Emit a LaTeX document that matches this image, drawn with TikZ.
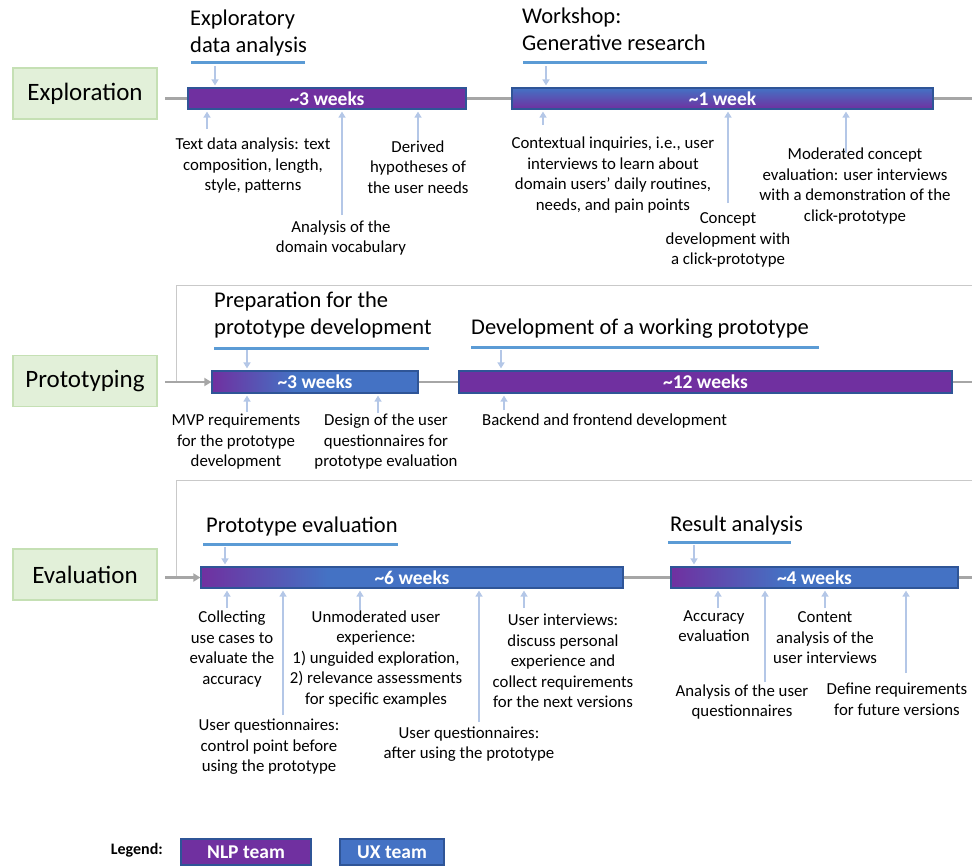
\documentclass[tikz,border=0pt]{standalone}
\usepackage{fontspec}
\setmainfont{Carlito}
\usetikzlibrary{arrows.meta}

\definecolor{nlpcol}{HTML}{7030A0}
\definecolor{uxcol}{HTML}{4472C4}
\definecolor{barcol}{HTML}{2F5597}
\definecolor{cuecol}{HTML}{B4C7E7}
\definecolor{headcol}{HTML}{5B9BD5}
\definecolor{trackcol}{HTML}{A6A6A6}
\definecolor{linkcol}{HTML}{C9C9C9}
\definecolor{phasefill}{HTML}{E2F0D9}
\definecolor{phaseline}{HTML}{C5E0B4}

% purple to blue, left part of the bar only
\pgfdeclarehorizontalshading{mixshort}{100bp}{color(0bp)=(nlpcol); color(25bp)=(nlpcol); color(45bp)=(uxcol); color(100bp)=(uxcol)}
\pgfdeclarehorizontalshading{mixlong}{100bp}{color(0bp)=(nlpcol); color(25bp)=(nlpcol); color(40bp)=(uxcol); color(100bp)=(uxcol)}

\begin{document}
\begin{tikzpicture}[x=1pt, y=-1pt,
    phase/.style={draw=phaseline, line width=1.5pt, fill=phasefill, minimum width=144pt, minimum height=51pt, font=\fontsize{25}{30}\selectfont},
    timebar/.style={draw=barcol, line width=1.2pt, inner sep=0pt, minimum height=21pt, text=white, font=\fontsize{19.5}{22}\selectfont\bfseries},
    head/.style={anchor=west, align=left, inner sep=0pt, font=\fontsize{22.5}{27}\selectfont},
    note/.style={align=center, inner sep=0pt, font=\fontsize{16.8}{20.5}\selectfont},
    cue/.style={draw=cuecol, line width=1.5pt, -{Triangle[width=7pt,length=6pt]}, shorten >=2pt},
    track/.style={draw=trackcol, line width=2.5pt},
    link/.style={draw=linkcol, line width=1pt},
    underline/.style={draw=headcol, line width=3pt}]
  \useasboundingbox (0,0) rectangle (972,865);

  % Exploration
  \node[phase] (explore) at (85,93.5) {Exploration};
  \node[timebar, fill=nlpcol, minimum width=278pt] (eda) at (327,98.5) {\textasciitilde3 weeks};
  \node[timebar, top color=uxcol, bottom color=nlpcol, minimum width=421pt] (gen) at (722.5,98.5) {\textasciitilde1 week};
  \coordinate (e0) at (165,98.5);
  \coordinate (e9) at (972,98.5);
  \draw[track] (e0) -- (eda.west) (eda.east) -- (gen.west) (gen.east) -- (e9);

  \node[head] (edahead) at (190,33) {Exploratory\\data analysis};
  \node[head] (genhead) at (522,29) {Workshop:\\Generative research};
  \draw[underline] (191,62) -- (305,62);
  \draw[underline] (523,62) -- (707,62);
  \coordinate (edain) at (215,66);
  \coordinate (genin) at (546,66);
  \draw[cue] (edain) -- (edain |- eda.north);
  \draw[cue] (genin) -- (genin |- gen.north);

  \node[note] (textdata) at (253,166) {Text data analysis: text\\composition, length,\\style, patterns};
  \node[note] (vocab) at (341,238) {Analysis of the\\domain vocabulary};
  \node[note] (needs) at (418,167) {Derived\\hypotheses of\\the user needs};
  \node[note] (inquiry) at (613,175) {Contextual inquiries, i.e., user\\interviews to learn about\\domain users’ daily routines,\\needs, and pain points};
  \node[note] (concept) at (728,240) {Concept\\development with\\a click-prototype};
  \node[note] (moderated) at (855,186) {Moderated concept\\evaluation: user interviews\\with a demonstration of the\\click-prototype};
  \coordinate (textdataup) at (207,129);
  \coordinate (vocabup) at (342,215);
  \coordinate (needsup) at (418,140);
  \coordinate (inquiryup) at (543,125);
  \coordinate (conceptup) at (728,203);
  \coordinate (moderatedup) at (846,153);
  \draw[cue] (textdataup) -- (textdataup |- eda.south);
  \draw[cue] (vocabup) -- (vocabup |- eda.south);
  \draw[cue] (needsup) -- (needsup |- eda.south);
  \draw[cue] (inquiryup) -- (inquiryup |- gen.south);
  \draw[cue] (conceptup) -- (conceptup |- gen.south);
  \draw[cue] (moderatedup) -- (moderatedup |- gen.south);

  % Prototyping
  \node[phase] (proto) at (85,381) {Prototyping};
  \node[timebar, shading=mixshort, minimum width=206pt, minimum height=22pt] (prep) at (315,382) {\textasciitilde3 weeks};
  \node[timebar, fill=nlpcol, minimum width=493pt, minimum height=22pt] (work) at (705.5,382) {\textasciitilde12 weeks};
  \coordinate (p0) at (165,382);
  \coordinate (p9) at (972,382);
  \coordinate (l2a) at (972,285);
  \coordinate (l2b) at (176,285);
  \draw[link] (l2a) -- (l2b) -- (l2b |- prep.west);
  \draw[track, -{Triangle[width=8pt,length=7pt]}] (p0) -- (prep.west);
  \draw[track] (prep.east) -- (work.west) (work.east) -- (p9);

  \node[head] (prephead) at (214,315) {Preparation for the\\prototype development};
  \node[head] (workhead) at (471,329) {Development of a working prototype};
  \draw[underline] (214,348) -- (429,348);
  \draw[underline] (471,347) -- (819,347);
  \coordinate (prepin) at (247,350);
  \coordinate (workin) at (501,350);
  \draw[cue] (prepin) -- (prepin |- prep.north);
  \draw[cue] (workin) -- (workin |- work.north);

  \node[note] (mvp) at (236,442) {MVP requirements\\for the prototype\\development};
  \node[note] (design) at (386,442) {Design of the user\\questionnaires for\\prototype evaluation};
  \node[note, anchor=west] (backend) at (482,421) {Backend and frontend development};
  \coordinate (mvpup) at (247,412);
  \coordinate (designup) at (378,413);
  \coordinate (backendup) at (504,410);
  \draw[cue] (mvpup) -- (mvpup |- prep.south);
  \draw[cue] (designup) -- (designup |- prep.south);
  \draw[cue] (backendup) -- (backendup |- work.south);

  % Evaluation
  \node[phase] (evaluate) at (85,574.5) {Evaluation};
  \node[timebar, shading=mixlong, minimum width=422pt] (test) at (412,577.5) {\textasciitilde6 weeks};
  \node[timebar, shading=mixshort, minimum width=287pt] (result) at (814.5,577.5) {\textasciitilde4 weeks};
  \coordinate (v0) at (165,577.5);
  \coordinate (v9) at (972,577.5);
  \coordinate (l3a) at (972,480);
  \coordinate (l3b) at (176,480);
  \draw[link] (l3a) -- (l3b) -- (l3b |- test.west);
  \draw[track, -{Triangle[width=8pt,length=7pt]}] (v0) -- (test.west);
  \draw[track] (test.east) -- (result.west) (result.east) -- (v9);

  \node[head] (testhead) at (206,526) {Prototype evaluation};
  \node[head] (resulthead) at (670,525) {Result analysis};
  \draw[underline] (203,544) -- (398,544);
  \draw[underline] (668,542) -- (791,542);
  \coordinate (testin) at (225,547);
  \coordinate (resultin) at (694,545);
  \draw[cue] (testin) -- (testin |- test.north);
  \draw[cue] (resultin) -- (resultin |- result.north);

  \node[note] (cases) at (232,649) {Collecting\\use cases to\\evaluate the\\accuracy};
  \node[note] (before) at (269,747) {User questionnaires:\\control point before\\using the prototype};
  \node[note] (unmod) at (376,659) {Unmoderated user\\experience:\\1) unguided exploration,\\2) relevance assessments\\for specific examples};
  \node[note] (after) at (469,744) {User questionnaires:\\after using the prototype};
  \node[note] (interviews) at (563,661) {User interviews:\\discuss personal\\experience and\\collect requirements\\for the next versions};
  \node[note] (accuracy) at (714,626) {Accuracy\\evaluation};
  \node[note] (questan) at (742,702) {Analysis of the user\\questionnaires};
  \node[note] (content) at (825,638) {Content\\analysis of the\\user interviews};
  \node[note] (future) at (897,699) {Define requirements\\for future versions};
  \coordinate (casesup) at (227,608);
  \coordinate (beforeup) at (283,715);
  \coordinate (unmodup) at (360,610);
  \coordinate (afterup) at (479,722);
  \coordinate (interviewsup) at (524,608);
  \coordinate (accuracyup) at (718,608);
  \coordinate (questanup) at (765,682);
  \coordinate (contentup) at (825,608);
  \coordinate (futureup) at (906,673);
  \draw[cue] (casesup) -- (casesup |- test.south);
  \draw[cue] (beforeup) -- (beforeup |- test.south);
  \draw[cue] (unmodup) -- (unmodup |- test.south);
  \draw[cue] (afterup) -- (afterup |- test.south);
  \draw[cue] (interviewsup) -- (interviewsup |- test.south);
  \draw[cue] (accuracyup) -- (accuracyup |- result.south);
  \draw[cue] (questanup) -- (questanup |- result.south);
  \draw[cue] (contentup) -- (contentup |- result.south);
  \draw[cue] (futureup) -- (futureup |- result.south);

  % legend
  \node[anchor=east, inner sep=0pt, font=\fontsize{16}{19}\selectfont\bfseries] (legend) at (163,850) {Legend:};
  \node[timebar, fill=nlpcol, minimum width=130pt, minimum height=26pt] (nlpkey) at (246,852) {NLP team};
  \node[timebar, fill=uxcol, minimum width=104pt, minimum height=26pt] (uxkey) at (392,852) {UX team};
\end{tikzpicture}
\end{document}
